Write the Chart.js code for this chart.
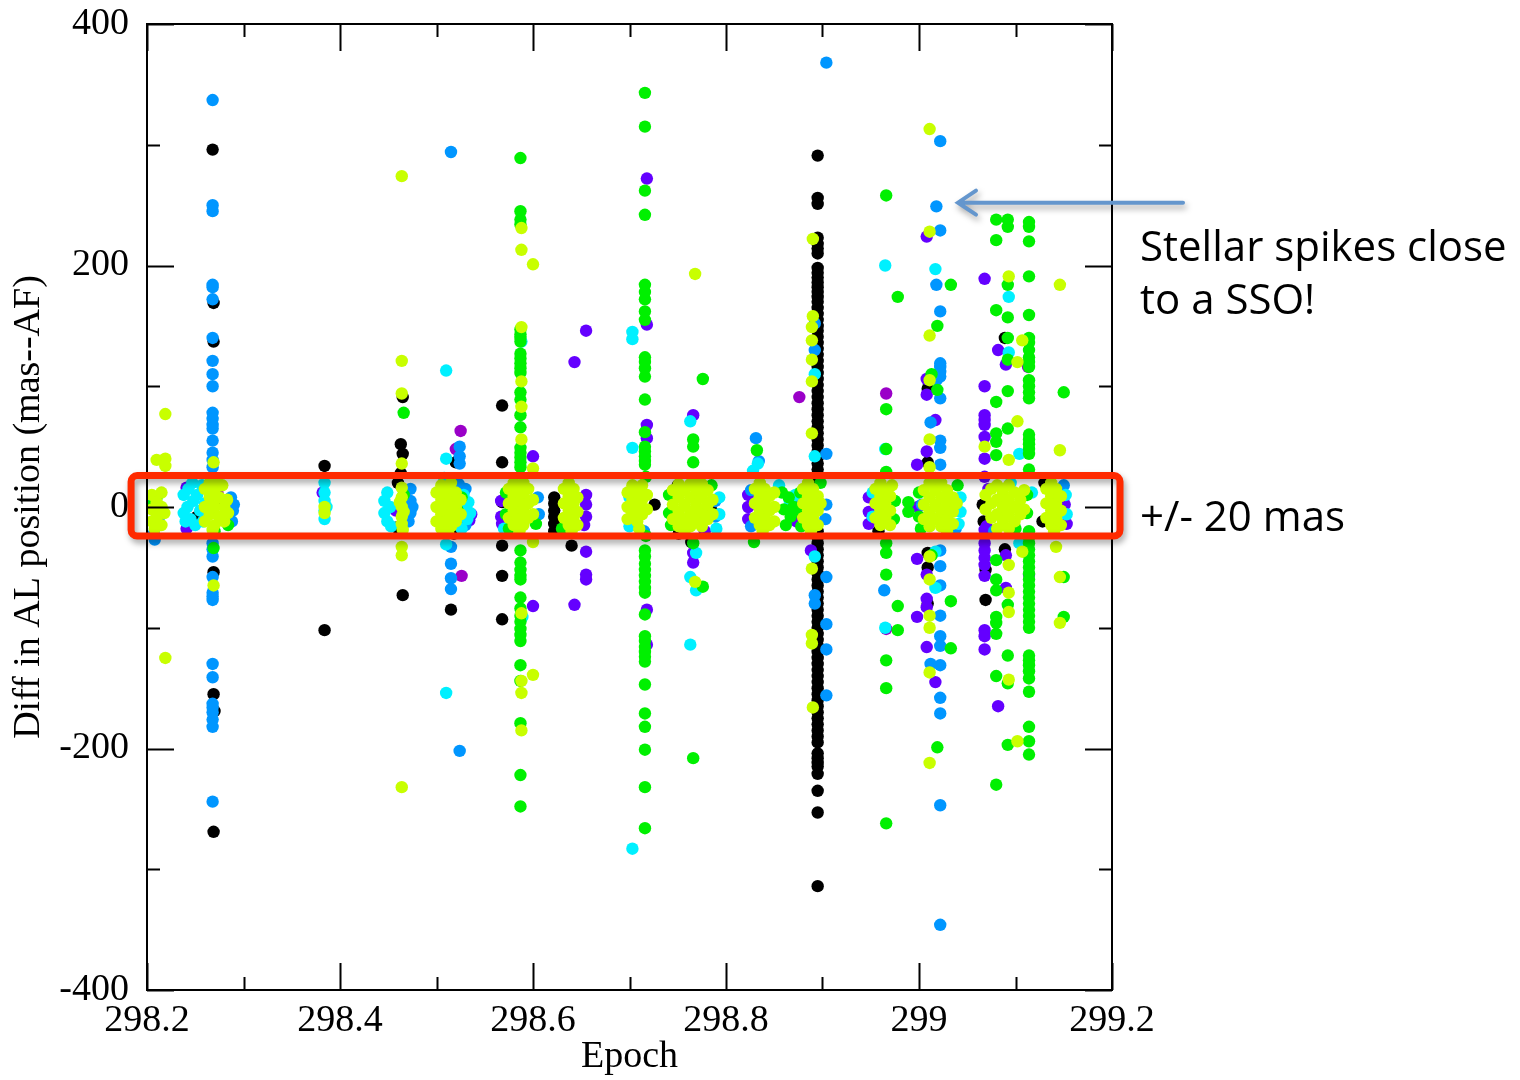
<!DOCTYPE html>
<html lang="en">
<head>
    <meta charset="UTF-8">
    <title>Diff in AL position vs Epoch</title>
    <script src="https://cdn.jsdelivr.net/npm/chart.js@4.4.1/dist/chart.umd.min.js"></script>
    <style>
        body { margin: 0; background: #fff; }
        #wrap { width: 1520px; height: 1080px; }
    </style>
</head>
<body>
    <div id="wrap"><canvas id="chart"></canvas></div>
    <script>
    // Axis ranges and tick labels
    const xMin = 298.2, xMax = 299.2, xStep = 0.1;
    const yMin = -400, yMax = 400, yStep = 100;
    const xLabel = 'Epoch';
    const yLabel = 'Diff in AL position (mas--AF)';
    const noteSpikes = ['Stellar spikes close', 'to a SSO!'];
    const noteBand = '+/- 20 mas';

    // Points, [epoch, diff], one list per colour
    const blackPts = [
        [298.268,296],[298.269,169],[298.269,137],[298.269,-54],[298.269,-155],[298.27,-169],[298.269,-269],
        [298.252,-8],[298.28,2],
        [298.384,34],[298.384,-102],
        [298.465,91],[298.463,52],[298.465,44],[298.463,28],[298.46,20],[298.459,-17],[298.465,-73],
        [298.52,37],[298.518,-22],[298.515,-85],
        [298.568,84],[298.568,37],[298.568,4],[298.568,-32],[298.568,-57],[298.568,-93],
        [298.622,8],[298.622,3],[298.622,-3],[298.622,-8],[298.622,-14],[298.622,-20],[298.64,-32],
        [298.726,2],
        [298.751,-22],[298.785,-3],[298.75,18],[298.764,-29],
        [298.895,291],[298.895,256],[298.895,251],[298.895,223],[298.895,218],[298.895,214],[298.895,210],
        [298.895,198],[298.895,194],[298.895,190],[298.895,186],[298.895,182],[298.895,178],[298.895,174],
        [298.895,170],[298.895,165],[298.895,160],[298.895,155],[298.895,150],[298.895,146],[298.895,141],
        [298.895,136],[298.895,131],[298.895,126],[298.895,121],[298.895,116],[298.895,111],[298.895,106],
        [298.895,101],[298.895,96],[298.895,91],[298.895,86],[298.895,81],[298.895,76],[298.895,71],
        [298.895,66],[298.895,61],[298.895,56],[298.895,51],[298.895,46],[298.895,41],[298.895,36],
        [298.895,31],[298.895,26],[298.895,21],
        [298.895,-20],[298.895,-25],[298.895,-30],[298.895,-35],[298.895,-40],[298.895,-45],[298.895,-50],
        [298.895,-55],[298.895,-60],[298.895,-65],[298.895,-70],[298.895,-75],[298.895,-80],[298.895,-85],
        [298.895,-90],[298.895,-95],[298.895,-100],[298.895,-105],[298.895,-110],[298.895,-115],[298.895,-120],
        [298.895,-125],[298.895,-130],[298.895,-135],[298.895,-140],[298.895,-145],[298.895,-150],[298.895,-155],
        [298.895,-160],[298.895,-165],[298.895,-170],[298.895,-175],[298.895,-180],[298.895,-185],[298.895,-190],
        [298.895,-195],[298.895,-204],[298.895,-208],[298.895,-212],[298.895,-215],[298.895,-221],[298.895,-235],
        [298.895,-253],[298.895,-314],
        [298.958,-20],
        [299.009,98],[299.009,37],[299.009,-38],[299.009,-50],[299.009,-80],
        [299.089,140],[299.089,-35],[299.069,-52],[299.069,-77],[299.066,2],[299.067,-12],
        [299.128,-12],[299.13,20]
    ];
    const violetPts = [
        [298.241,16],[298.241,-18],
        [298.382,12],
        [298.458,-3],
        [298.534,-11],[298.536,-6],
        [298.567,5],[298.567,-8],[298.568,-14],[298.6,42],[298.6,-82],
        [298.655,146],[298.643,120],[298.655,10],[298.655,2],[298.655,-8],[298.653,-15],
        [298.655,-37],[298.655,-56],[298.655,-60],[298.643,-81],
        [298.718,272],[298.718,151],[298.718,68],[298.718,57],[298.718,-85],[298.718,-114],
        [298.766,76],[298.766,-38],[298.766,-46],[298.778,-20],
        [298.823,10],[298.823,0],[298.823,-10],
        [298.888,-36],[298.873,-12],[298.875,8],
        [298.948,8],[298.948,-4],[298.948,-14],
        [299.008,224],[299.008,106],[299.008,93],[299.008,46],[299.008,-56],[299.008,-76],[299.008,-83],[299.008,-116],
        [299.017,72],[299.017,-145],[298.998,35],[298.998,-43],[298.998,-91],[298.999,0],
        [299.068,189],[299.068,100],[299.068,76],[299.068,72],[299.068,68],[299.068,58],[299.068,40],[299.068,25],
        [299.068,-19],[299.068,-24],[299.068,-30],[299.068,-36],[299.068,-42],[299.068,-48],[299.068,-57],
        [299.068,-102],[299.068,-107],[299.068,-118],
        [299.082,130],[299.082,-165],[299.09,118],[299.09,-40],[299.09,-67],[299.114,-56],
        [299.07,-16],[299.072,15],
        [299.153,-14],[299.151,2]
    ];
    const purplePts = [
        [298.203,6],[298.273,12],
        [298.525,63],[298.52,48],[298.526,-57],
        [298.876,91],[298.872,-2],
        [298.966,94],[298.966,-101],
        [299.113,116]
    ];
    const bluePts = [
        [298.268,337],[298.268,250],[298.268,245],[298.268,184],[298.268,182],[298.268,172],[298.268,140],
        [298.268,121],[298.268,110],[298.268,100],[298.268,78],[298.268,73],[298.268,68],[298.268,65],
        [298.268,55],[298.268,45],[298.268,39],[298.268,33],
        [298.268,-30],[298.268,-35],[298.268,-41],[298.268,-58],[298.268,-71],[298.268,-74],[298.268,-77],
        [298.268,-130],[298.268,-141],[298.268,-163],[298.268,-166],[298.268,-170],[298.268,-176],[298.268,-182],
        [298.268,-244],
        [298.202,5],[298.207,-22],[298.212,-10],[298.208,-27],
        [298.287,8],[298.289,-3],[298.288,-12],[298.29,2],
        [298.473,15],[298.473,5],[298.473,-5],[298.471,-12],[298.475,0],
        [298.515,294],[298.524,50],[298.524,42],[298.524,36],[298.515,-33],[298.515,-47],[298.515,-59],
        [298.515,-68],[298.524,-202],[298.53,15],[298.53,-15],[298.523,19],
        [298.605,8],[298.606,-6],
        [298.705,3],[298.715,-20],
        [298.789,5],[298.789,-8],
        [298.831,57],[298.834,38],[298.826,-16],[298.826,14],
        [298.904,368],[298.904,44],[298.904,-58],[298.904,-97],[298.904,-118],[298.904,-156],
        [298.892,152],[298.892,130],[298.892,-73],[298.892,-80],
        [298.904,2],[298.903,-10],[298.872,2],
        [298.964,-69],
        [299.022,303],[299.022,229],[299.022,162],[299.022,119],[299.022,116],[299.022,112],[299.022,108],
        [299.022,90],[299.022,55],[299.022,49],[299.022,35],[299.022,-36],[299.022,-49],[299.022,-65],
        [299.022,-90],[299.022,-107],[299.022,-115],[299.022,-131],[299.022,-158],[299.022,-171],[299.022,-247],
        [299.022,-346],
        [299.018,249],[299.018,184],[299.018,105],[299.012,70],[299.012,-130],
        [299.02,22],[299.038,-18],[299.003,2],
        [299.078,-20],
        [299.15,18]
    ];
    const cyanPts = [
        [298.238,10],[298.238,-5],[298.242,0],[298.243,15],[298.245,-10],[298.248,5],[298.25,-15],
        [298.252,10],[298.255,-3],[298.257,18],[298.258,-12],[298.26,3],[298.24,-12],[298.247,20],
        [298.384,20],[298.384,12],[298.384,5],[298.384,-3],[298.384,-10],[298.386,0],
        [298.446,5],[298.446,-5],[298.449,12],[298.449,-12],[298.452,0],[298.453,-16],
        [298.51,113],[298.51,40],[298.51,-31],[298.51,-154],
        [298.528,10],[298.53,0],[298.532,-10],[298.533,4],[298.535,-5],[298.526,-18],[298.508,24],
        [298.588,137],[298.589,-91],[298.57,-18],
        [298.703,145],[298.703,139],[298.703,49],[298.703,-283],[298.7,8],[298.7,-16],
        [298.763,71],[298.763,-58],[298.763,-114],[298.769,-38],[298.769,-69],
        [298.793,8],[298.793,-6],[298.79,-18],
        [298.833,36],[298.828,30],[298.866,5],[298.855,18],
        [298.892,110],[298.892,42],[298.892,-41],[298.872,10],
        [298.965,200],[298.965,48],[298.965,-100],[298.952,12],[298.952,-8],
        [299.017,197],[299.017,-37],[299.017,-67],
        [299.043,8],[299.043,-4],[299.041,-14],
        [299.093,174],[299.093,128],[299.104,44],[299.104,-30],[299.117,12],[299.095,20],
        [299.152,10],[299.153,-6]
    ];
    const greenPts = [
        [298.21,8],[298.213,-3],[298.207,3],
        [298.27,-20],[298.284,-15],[298.269,-34],
        [298.466,78],[298.466,10],
        [298.522,-3],[298.526,8],
        [298.587,289],[298.587,245],[298.587,238],[298.587,234],[298.587,147],[298.587,143],[298.587,140],
        [298.587,137],[298.587,127],[298.587,123],[298.587,119],[298.587,115],[298.587,111],[298.587,95],
        [298.587,89],[298.587,76],[298.587,66],[298.587,49],[298.587,45],[298.587,41],[298.587,37],[298.587,33],
        [298.587,-36],[298.587,-46],[298.587,-52],[298.587,-57],[298.587,-60],[298.587,-75],[298.587,-84],
        [298.587,-90],[298.587,-95],[298.587,-101],[298.587,-106],[298.587,-111],[298.587,-131],[298.587,-144],
        [298.587,-179],[298.587,-222],[298.587,-248],
        [298.572,12],[298.572,-6],[298.603,-14],[298.575,-18],
        [298.63,-18],
        [298.716,343],[298.716,315],[298.716,262],[298.716,242],[298.716,184],[298.716,178],[298.716,172],
        [298.716,162],[298.716,155],[298.716,124],[298.716,120],[298.716,115],[298.716,108],[298.716,89],
        [298.716,62],[298.716,50],[298.716,46],[298.716,42],[298.716,38],[298.716,35],
        [298.716,-36],[298.716,-41],[298.716,-47],[298.716,-52],[298.716,-57],[298.716,-62],[298.716,-67],
        [298.716,-71],[298.716,-89],[298.716,-107],[298.716,-111],[298.716,-116],[298.716,-120],[298.716,-124],
        [298.716,-128],[298.716,-147],[298.716,-171],[298.716,-182],[298.716,-201],[298.716,-232],[298.716,-266],
        [298.717,25],[298.717,-24],
        [298.766,56],[298.766,50],[298.766,37],[298.766,-30],[298.766,-208],[298.776,106],[298.776,-66],
        [298.741,10],[298.741,-5],[298.743,-15],[298.785,18],
        [298.832,47],[298.829,-29],
        [298.858,12],[298.86,-2],[298.865,8],[298.87,0],[298.867,-8],[298.862,-15],
        [298.877,12],[298.876,-4],[298.878,-16],[298.898,20],
        [298.966,258],[298.966,81],[298.966,48],[298.966,29],[298.966,-30],[298.966,-38],[298.966,-56],
        [298.966,-127],[298.966,-150],[298.966,-262],[298.978,174],[298.978,-82],[298.978,-102],
        [298.975,5],[298.974,-10],[298.989,4],[298.989,-4],
        [299.033,184],[299.033,-78],[299.033,-117],[299.019,150],[299.019,97],[299.019,-199],
        [299.013,110],[299.013,-40],
        [299.0,12],[299.0,-8],[299.002,-18],[299.04,18],
        [299.08,238],[299.08,221],[299.08,163],[299.08,87],[299.08,61],[299.08,54],[299.08,43],
        [299.08,-44],[299.08,-60],[299.08,-69],[299.08,-91],[299.08,-96],[299.08,-105],[299.08,-140],[299.08,-230],
        [299.092,238],[299.092,232],[299.092,184],[299.092,157],[299.092,140],[299.092,122],[299.092,96],
        [299.092,65],[299.092,-81],[299.092,-123],[299.092,-146],[299.092,-197],
        [299.114,236],[299.114,232],[299.114,220],[299.114,191],[299.114,159],[299.114,140],[299.114,136],
        [299.114,130],[299.114,124],[299.114,120],[299.114,116],[299.114,105],[299.114,100],[299.114,95],
        [299.114,90],[299.114,60],[299.114,56],[299.114,52],[299.114,48],[299.114,44],[299.114,31],
        [299.114,-20],[299.114,-25],[299.114,-30],[299.114,-35],[299.114,-40],[299.114,-45],[299.114,-50],
        [299.114,-55],[299.114,-60],[299.114,-65],[299.114,-70],[299.114,-75],[299.114,-80],[299.114,-85],
        [299.114,-90],[299.114,-95],[299.114,-100],[299.114,-123],[299.114,-127],[299.114,-131],[299.114,-136],
        [299.114,-142],[299.114,-153],[299.114,-182],[299.114,-194],[299.114,-205],
        [299.15,95],[299.15,-58],[299.15,-91],
        [299.1,-18],[299.112,10],[299.112,-5]
    ];
    const yellowPts = [
        [298.219,77],[298.21,39],[298.219,40],[298.219,34],[298.219,-125],
        [298.205,10],[298.205,-2],[298.205,-12],[298.21,4],[298.21,-8],[298.215,12],[298.215,0],
        [298.215,-15],[298.218,-5],[298.208,-18],
        [298.269,37],[298.269,-65],
        [298.26,15],[298.26,0],[298.26,-12],[298.265,8],[298.265,-6],[298.265,20],[298.27,14],[298.27,0],
        [298.27,-15],[298.275,8],[298.275,-8],[298.278,18],[298.28,0],[298.28,-12],[298.283,6],[298.268,-19],
        [298.272,22],[298.284,-5],
        [298.384,0],[298.384,-5],
        [298.464,274],[298.464,121],[298.464,94],[298.464,36],[298.464,-33],[298.464,-40],[298.464,-232],
        [298.464,16],[298.464,8],[298.464,0],[298.464,-8],[298.464,-14],[298.465,-19],[298.462,4],[298.466,-4],
        [298.5,12],[298.5,0],[298.5,-12],[298.505,18],[298.505,6],[298.505,-6],[298.505,-18],[298.51,12],
        [298.51,0],[298.51,-12],[298.515,20],[298.515,6],[298.515,-6],[298.515,-16],[298.52,12],[298.52,0],
        [298.52,-12],[298.525,6],[298.525,-6],[298.512,-21],
        [298.588,231],[298.588,213],[298.588,149],[298.588,104],[298.588,83],[298.588,56],[298.588,-88],
        [298.588,-144],[298.588,-154],[298.588,-185],[298.6,201],[298.6,32],[298.6,-29],[298.6,-139],
        [298.575,15],[298.575,3],[298.575,-9],[298.58,20],[298.58,9],[298.58,-3],[298.58,-15],[298.585,15],
        [298.585,3],[298.585,-9],[298.59,20],[298.59,9],[298.59,-3],[298.59,-15],[298.595,15],[298.595,3],
        [298.595,-9],[298.6,6],[298.6,-6],[298.586,-20],
        [298.632,15],[298.632,3],[298.632,-9],[298.637,20],[298.637,9],[298.637,-3],[298.637,-15],[298.642,15],
        [298.642,3],[298.642,-9],[298.646,8],[298.646,-4],[298.646,-15],[298.64,-20],
        [298.698,12],[298.698,0],[298.698,-10],[298.703,18],[298.703,6],[298.703,-6],[298.708,12],[298.708,0],
        [298.708,-12],[298.713,18],[298.713,6],[298.713,-6],[298.718,10],[298.718,-2],[298.71,-18],
        [298.768,193],[298.768,-62],
        [298.745,14],[298.745,2],[298.745,-10],[298.751,19],[298.751,8],[298.751,-4],[298.751,-16],
        [298.757,14],[298.757,2],[298.757,-10],[298.757,-20],[298.763,19],[298.763,8],[298.763,-4],[298.763,-16],
        [298.769,14],[298.769,2],[298.769,-10],[298.769,22],[298.775,19],[298.775,8],[298.775,-4],[298.775,-16],
        [298.781,14],[298.781,2],[298.781,-10],[298.786,6],[298.786,-6],
        [298.83,15],[298.83,3],[298.83,-9],[298.835,20],[298.835,9],[298.835,-3],[298.835,-15],[298.84,15],
        [298.84,3],[298.84,-9],[298.845,9],[298.845,-3],[298.845,-15],[298.85,12],[298.85,0],[298.85,-12],
        [298.838,-20],
        [298.89,222],[298.89,158],[298.889,149],[298.889,138],[298.889,122],[298.889,104],[298.889,61],
        [298.889,-51],[298.889,-106],[298.889,-113],[298.89,-166],
        [298.88,15],[298.88,3],[298.88,-9],[298.885,20],[298.885,9],[298.885,-3],[298.885,-15],[298.89,15],
        [298.89,3],[298.89,-9],[298.895,9],[298.895,-3],[298.895,-15],[298.898,3],[298.888,-20],
        [298.955,15],[298.955,3],[298.955,-9],[298.96,20],[298.96,9],[298.96,-3],[298.96,-15],[298.965,15],
        [298.965,3],[298.965,-9],[298.97,9],[298.97,-3],[298.97,-15],[298.972,18],
        [299.011,313],[299.011,228],[299.011,142],[299.011,105],[299.011,56],[299.011,33],[299.011,-41],
        [299.011,-60],[299.011,-90],[299.011,-100],[299.011,-137],[299.011,-212],
        [299.005,14],[299.005,2],[299.005,-10],[299.011,20],[299.011,8],[299.011,-4],[299.011,-16],
        [299.017,14],[299.017,2],[299.017,-10],[299.017,24],[299.023,20],[299.023,8],[299.023,-4],[299.023,-16],
        [299.029,14],[299.029,2],[299.029,-10],[299.029,-20],[299.035,8],[299.035,-4],[299.035,-14],[299.039,3],
        [299.093,191],[299.093,39],[299.093,-48],[299.093,-71],[299.093,-87],[299.093,-143],
        [299.107,138],[299.107,-37],[299.102,120],[299.102,71],[299.102,-194],[299.068,50],
        [299.146,184],[299.146,47],[299.146,-58],[299.146,-96],[299.142,-33],
        [299.069,10],[299.069,-2],[299.075,15],[299.075,3],[299.075,-9],[299.081,18],[299.081,6],[299.081,-6],
        [299.081,-18],[299.087,12],[299.087,0],[299.087,-12],[299.093,18],[299.093,6],[299.093,-6],[299.093,-18],
        [299.099,12],[299.099,0],[299.099,-12],[299.105,6],[299.105,-6],[299.109,14],[299.109,-2],
        [299.132,15],[299.132,3],[299.132,-9],[299.137,20],[299.137,9],[299.137,-3],[299.137,-15],[299.142,15],
        [299.142,3],[299.142,-9],[299.147,9],[299.147,-3],[299.147,-15],[299.14,-20]
    ];

    function toXY(list) {
        return list.map(p => ({ x: p[0], y: p[1] }));
    }

    // lower order = drawn on top
    const series = [
        { label: 'yellow', pts: yellowPts, color: '#c8ff00', order: 0 },
        { label: 'green', pts: greenPts, color: '#00f000', order: 1 },
        { label: 'cyan', pts: cyanPts, color: '#00f0ff', order: 2 },
        { label: 'blue', pts: bluePts, color: '#0096ff', order: 3 },
        { label: 'purple', pts: purplePts, color: '#9a00c8', order: 4 },
        { label: 'violet', pts: violetPts, color: '#6400ff', order: 5 },
        { label: 'black', pts: blackPts, color: '#000000', order: 6 }
    ];

    const serif = "'Liberation Serif', 'Times New Roman', serif";
    const sans = "'Open Sans', 'Noto Sans', sans-serif";

    // frame, inward ticks and the slide annotations
    const decorations = {
        id: 'decorations',
        afterDraw(chart) {
            const { ctx, chartArea: a, scales: { x, y } } = chart;
            ctx.save();
            ctx.strokeStyle = '#000';
            ctx.lineWidth = 2;
            ctx.strokeRect(a.left, a.top, a.right - a.left, a.bottom - a.top);

            ctx.beginPath();
            x.ticks.forEach((t, i) => {
                const px = Math.round(x.getPixelForValue(t.value)) + 0.5;
                const len = i % 2 === 0 ? 27 : 13;
                ctx.moveTo(px, a.bottom); ctx.lineTo(px, a.bottom - len);
                ctx.moveTo(px, a.top); ctx.lineTo(px, a.top + len);
            });
            y.ticks.forEach(t => {
                const py = Math.round(y.getPixelForValue(t.value)) + 0.5;
                const len = Math.round(t.value) % 200 === 0 ? 27 : 13;
                ctx.moveTo(a.left, py); ctx.lineTo(a.left + len, py);
                ctx.moveTo(a.right, py); ctx.lineTo(a.right - len, py);
            });
            ctx.stroke();

            // red +/- band
            ctx.shadowColor = 'rgba(0,0,0,0.35)';
            ctx.shadowBlur = 6;
            ctx.shadowOffsetX = 2;
            ctx.shadowOffsetY = 4;
            const l = x.getPixelForValue(298.1835), r = x.getPixelForValue(299.2083);
            const t = y.getPixelForValue(26), b = y.getPixelForValue(-24);
            ctx.strokeStyle = '#ff2a00';
            ctx.lineWidth = 7;
            ctx.beginPath();
            ctx.roundRect(l, t, r - l, b - t, 6);
            ctx.stroke();

            // arrow
            const ay = y.getPixelForValue(252);
            const tip = x.getPixelForValue(299.0404), tail = x.getPixelForValue(299.2736);
            ctx.strokeStyle = '#6496cd';
            ctx.lineWidth = 4;
            ctx.lineCap = 'round';
            ctx.beginPath();
            ctx.moveTo(tail, ay); ctx.lineTo(tip + 2, ay);
            ctx.moveTo(tip + 18, ay - 12); ctx.lineTo(tip, ay); ctx.lineTo(tip + 18, ay + 12);
            ctx.stroke();

            // notes
            ctx.shadowColor = 'transparent';
            ctx.fillStyle = '#000';
            ctx.font = '42px ' + sans;
            ctx.textBaseline = 'alphabetic';
            ctx.textAlign = 'left';
            const tx = a.right + 28;
            ctx.fillText(noteSpikes[0], tx, y.getPixelForValue(204));
            ctx.fillText(noteSpikes[1], tx, y.getPixelForValue(160));
            ctx.fillText(noteBand, tx, y.getPixelForValue(-20));
            ctx.restore();
        }
    };

    new Chart(document.getElementById('chart'), {
        type: 'scatter',
        data: {
            datasets: series.map(s => ({
                label: s.label,
                data: toXY(s.pts),
                backgroundColor: s.color,
                borderWidth: 0,
                pointRadius: 6.2,
                order: s.order
            }))
        },
        options: {
            responsive: true,
            maintainAspectRatio: false,
            animation: false,
            layout: { padding: { left: 0, right: 408, top: 24, bottom: 0 } },
            plugins: {
                legend: { display: false },
                tooltip: { enabled: false }
            },
            scales: {
                x: {
                    type: 'linear',
                    min: xMin,
                    max: xMax,
                    afterFit: s => { s.height = 90; s.paddingLeft = 0; s.paddingRight = 0; },
                    grid: { display: false },
                    border: { display: false },
                    ticks: {
                        stepSize: xStep,
                        padding: 0,
                        color: '#000',
                        maxRotation: 0,
                        autoSkip: false,
                        font: { family: serif, size: 38 },
                        callback: (v, i) => i % 2 === 0 ? String(Number(v.toFixed(1))) : ''
                    },
                    title: {
                        display: true,
                        text: xLabel,
                        color: '#000',
                        padding: { top: 0, bottom: 0 },
                        font: { family: serif, size: 38 }
                    }
                },
                y: {
                    type: 'linear',
                    min: yMin,
                    max: yMax,
                    afterFit: s => { s.width = 147; s.paddingTop = 0; s.paddingBottom = 0; },
                    grid: { display: false },
                    border: { display: false },
                    ticks: {
                        stepSize: yStep,
                        padding: 10,
                        color: '#000',
                        autoSkip: false,
                        font: { family: serif, size: 38 },
                        callback: v => Math.round(v) % 200 === 0 ? String(Math.round(v)) : ''
                    },
                    title: {
                        display: true,
                        text: yLabel,
                        color: '#000',
                        padding: { top: 6, bottom: 0 },
                        font: { family: serif, size: 38 }
                    }
                }
            }
        },
        plugins: [decorations]
    });
    </script>
</body>
</html>
